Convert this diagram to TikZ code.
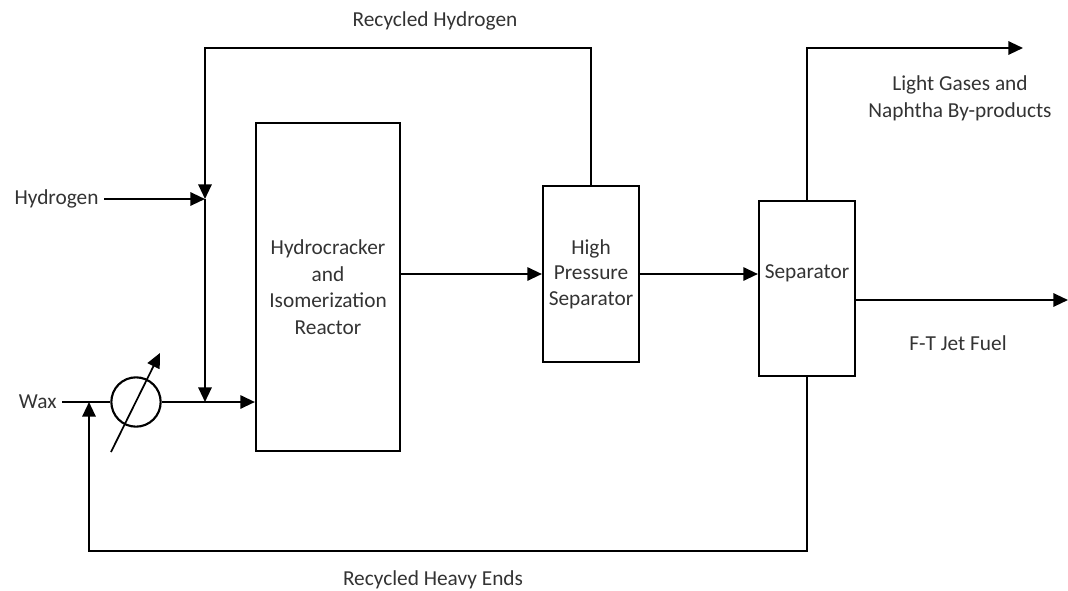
\documentclass[tikz,border=0pt]{standalone}
\usepackage{fontspec}
\setmainfont{Carlito}
\usetikzlibrary{arrows.meta,positioning}
\begin{document}
\begin{tikzpicture}[x=0.75pt,y=-0.75pt,line width=1.6pt,>={Triangle[length=11pt,width=10pt]},font=\fontsize{16}{20}\selectfont,
	box/.style={draw,rectangle,align=center,inner sep=0pt,text=black!80},
	lbl/.style={align=center,text=black!80}]
	\useasboundingbox (0,0) rectangle (1068,590);
	% units
	\node[box,minimum width=108pt,minimum height=246pt] (reactor) at (328,287) {Hydrocracker\\and\\Isomerization\\Reactor};
	\node[box,minimum width=72pt,minimum height=132pt,font=\fontsize{16}{19}\selectfont] (hps) at (591,274) {High\\Pressure\\Separator};
	\node[box,minimum width=72pt,minimum height=131pt] (sep) at (807,288.5) {};
	\node[lbl] (septext) at (807,273) {Separator};
	\node[draw,circle,minimum size=37pt,inner sep=0pt] (hx) at (136,402) {};
	% feeds and labels
	\node[lbl,anchor=east] (h2) at (104,199) {Hydrogen};
	\node[lbl,anchor=east] (wax) at (62,402) {Wax};
	\node[lbl] (rech2) at (435,21) {Recycled Hydrogen};
	\node[lbl] (light) at (960,98) {Light Gases and\\Naphtha By-products};
	\node[lbl] (jet) at (958,343) {F-T Jet Fuel};
	\node[lbl] (heavy) at (433,580) {Recycled Heavy Ends};
	\coordinate (jh) at (205,199);
	\coordinate (jw) at (205,402);
	\coordinate (rh) at (205,48);
	\coordinate (lg) at (1023,48);
	\coordinate (jf) at (1068,300);
	\coordinate (rb) at (89,551);
	\coordinate (jx) at (89,402);
	% streams
	\draw[->] (h2) -- (jh);
	\draw[->] (hps.north) |- (rh) -- (jh);
	\draw[->] (jh) -- (jw);
	\draw (wax) -- (hx);
	\draw[->] (hx) -- (hx -| reactor.west);
	\draw[->] (reactor.east |- hps) -- (hps.west);
	\draw[->] (hps.east) -- (hps.east -| sep.west);
	\draw[->] (sep.north) |- (lg);
	\draw[->] (sep.east |- jf) -- (jf);
	\draw[->] (sep.south) |- (rb) -- (jx);
	\draw[->,line width=1.3pt] ([shift={(-25,50)}]hx.center) -- ([shift={(24,-49)}]hx.center);
\end{tikzpicture}
\end{document}
